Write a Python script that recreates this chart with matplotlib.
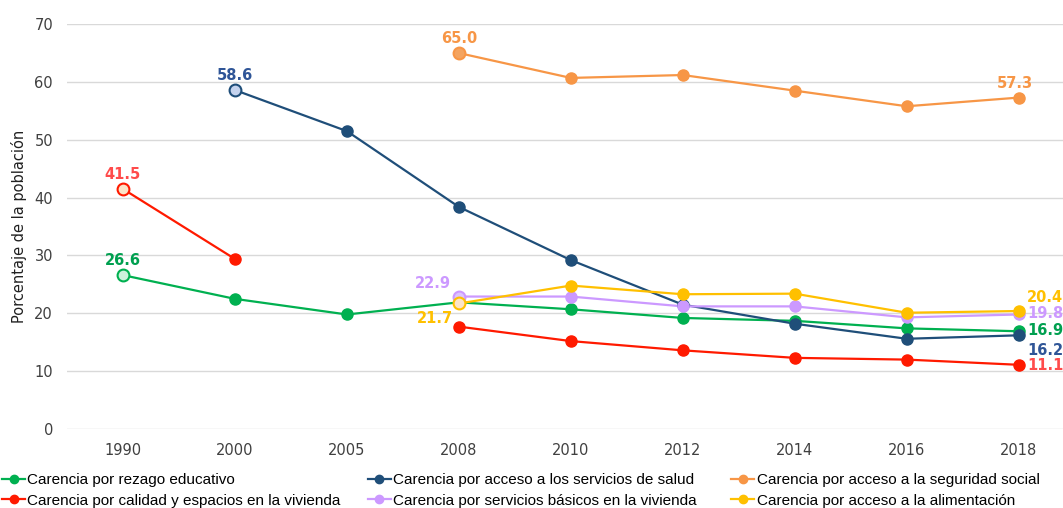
import matplotlib
matplotlib.use('Agg')
import matplotlib.pyplot as plt
import numpy as np

plt.rcParams['font.family'] = ['Liberation Sans', 'DejaVu Sans']

years = ['1990', '2000', '2005', '2008', '2010', '2012', '2014', '2016', '2018']

# values per indicator (None = no data for that year)
rezago = [26.6, 22.5, 19.8, 21.9, 20.7, 19.2, 18.7, 17.4, 16.9]
salud = [None, 58.6, 51.5, 38.4, 29.2, 21.5, 18.2, 15.6, 16.2]
seguridad = [None, None, None, 65.0, 60.7, 61.2, 58.5, 55.8, 57.3]
vivienda = [41.5, 29.4, None, 17.7, 15.2, 13.6, 12.3, 12.0, 11.1]
servicios = [None, None, None, 22.9, 22.9, 21.2, 21.2, 19.3, 19.8]
alimentacion = [None, None, None, 21.7, 24.8, 23.3, 23.4, 20.1, 20.4]

names = ['Carencia por rezago educativo',
         'Carencia por acceso a los servicios de salud',
         'Carencia por acceso a la seguridad social',
         'Carencia por calidad y espacios en la vivienda',
         'Carencia por servicios básicos en la vivienda',
         'Carencia por acceso a la alimentación']

series = [rezago, salud, seguridad, vivienda, servicios, alimentacion]
colors = ['#00B050', '#1F4E79', '#F79646', '#FF1A00', '#CC99FF', '#FFC000']
first_fill = ['#CCF2DC', '#C5D3EE', '#F4A460', '#FCE4C8', '#DDC4FF', '#FCE4C8']
label_colors = ['#00A050', '#2F5597', '#F79646', '#FF4B4B', '#CC99FF', '#FFC000']

# label offsets in points: (first dx, dy, ha), (last dx, dy, ha)
first_off = [(0, 5, 'center'), (0, 5, 'center'), (0, 5, 'center'),
             (0, 5, 'center'), (-6, 4, 'right'), (-4, -16, 'right')]
last_off = [(6, -5, 'left'), (6, -16, 'left'), (-3, 5, 'center'),
            (6, -6, 'left'), (6, -5, 'left'), (6, 4, 'left')]

fig = plt.figure(figsize=(10.63, 5.08), dpi=100)
ax = fig.add_axes([0.063, 0.1555, 0.948, 0.797])

x = np.arange(len(years))
handles = []
for vals, name, c, ff, lc, fo, lo in zip(series, names, colors, first_fill,
                                         label_colors, first_off, last_off):
    xs = [i for i, v in enumerate(vals) if v is not None]
    ys = [vals[i] for i in xs]
    # connect consecutive available points only (gap for missing 2005)
    segs = []
    cur = [xs[0]]
    for a, b in zip(xs[:-1], xs[1:]):
        if b == a + 1:
            cur.append(b)
        else:
            segs.append(cur)
            cur = [b]
    segs.append(cur)
    for s in segs:
        ax.plot(s, [vals[i] for i in s], color=c, lw=1.6, zorder=2)
    ax.plot(xs[1:], ys[1:], 'o', color=c, ms=8, zorder=3)
    ax.plot(xs[0], ys[0], 'o', mfc=ff, mec=c, mew=1.5, ms=8.5, zorder=4)
    h, = ax.plot([], [], color=c, marker='o', ms=6, lw=1.6)
    handles.append(h)

    ax.annotate(f'{ys[0]:.1f}', (xs[0], ys[0]), xytext=fo[:2],
                textcoords='offset points', ha=fo[2], va='bottom',
                color=lc, fontsize=10.5, fontweight='bold',
                family=['DejaVu Sans'])
    ax.annotate(f'{ys[-1]:.1f}', (xs[-1], ys[-1]), xytext=lo[:2],
                textcoords='offset points', ha=lo[2], va='bottom',
                color=lc, fontsize=10.5, fontweight='bold',
                family=['DejaVu Sans'])

ax.set_xlim(-0.5, len(years) - 0.5)
ax.set_ylim(0, 70)
ax.set_yticks(range(0, 71, 10))
ax.set_xticks(x)
ax.set_xticklabels(years)
ax.tick_params(length=0, colors='#404040', pad=10)
for lab in ax.get_xticklabels() + ax.get_yticklabels():
    lab.set_family(['DejaVu Sans'])
    lab.set_fontsize(10.5)
ax.grid(axis='y', color='#D9D9D9', lw=1)
ax.set_axisbelow(True)
for sp in ax.spines.values():
    sp.set_visible(False)
ax.set_ylabel('Porcentaje de la población', fontsize=10.5, color='#202020',
              family=['DejaVu Sans'], labelpad=5)

# legend: three columns, each placed at the reference position
col_x = [0.002, 0.346, 0.688]
for k, cx in enumerate(col_x):
    idx = [k, k + 3]
    fig.legend([handles[i] for i in idx], [names[i] for i in idx],
               loc='upper left', bbox_to_anchor=(cx, 0.069),
               frameon=False, fontsize=11, handlelength=1.5,
               handletextpad=0.15, labelspacing=0.45, borderaxespad=0.0,
               borderpad=0.0)

fig.savefig('out.png', dpi=100, facecolor='white')
